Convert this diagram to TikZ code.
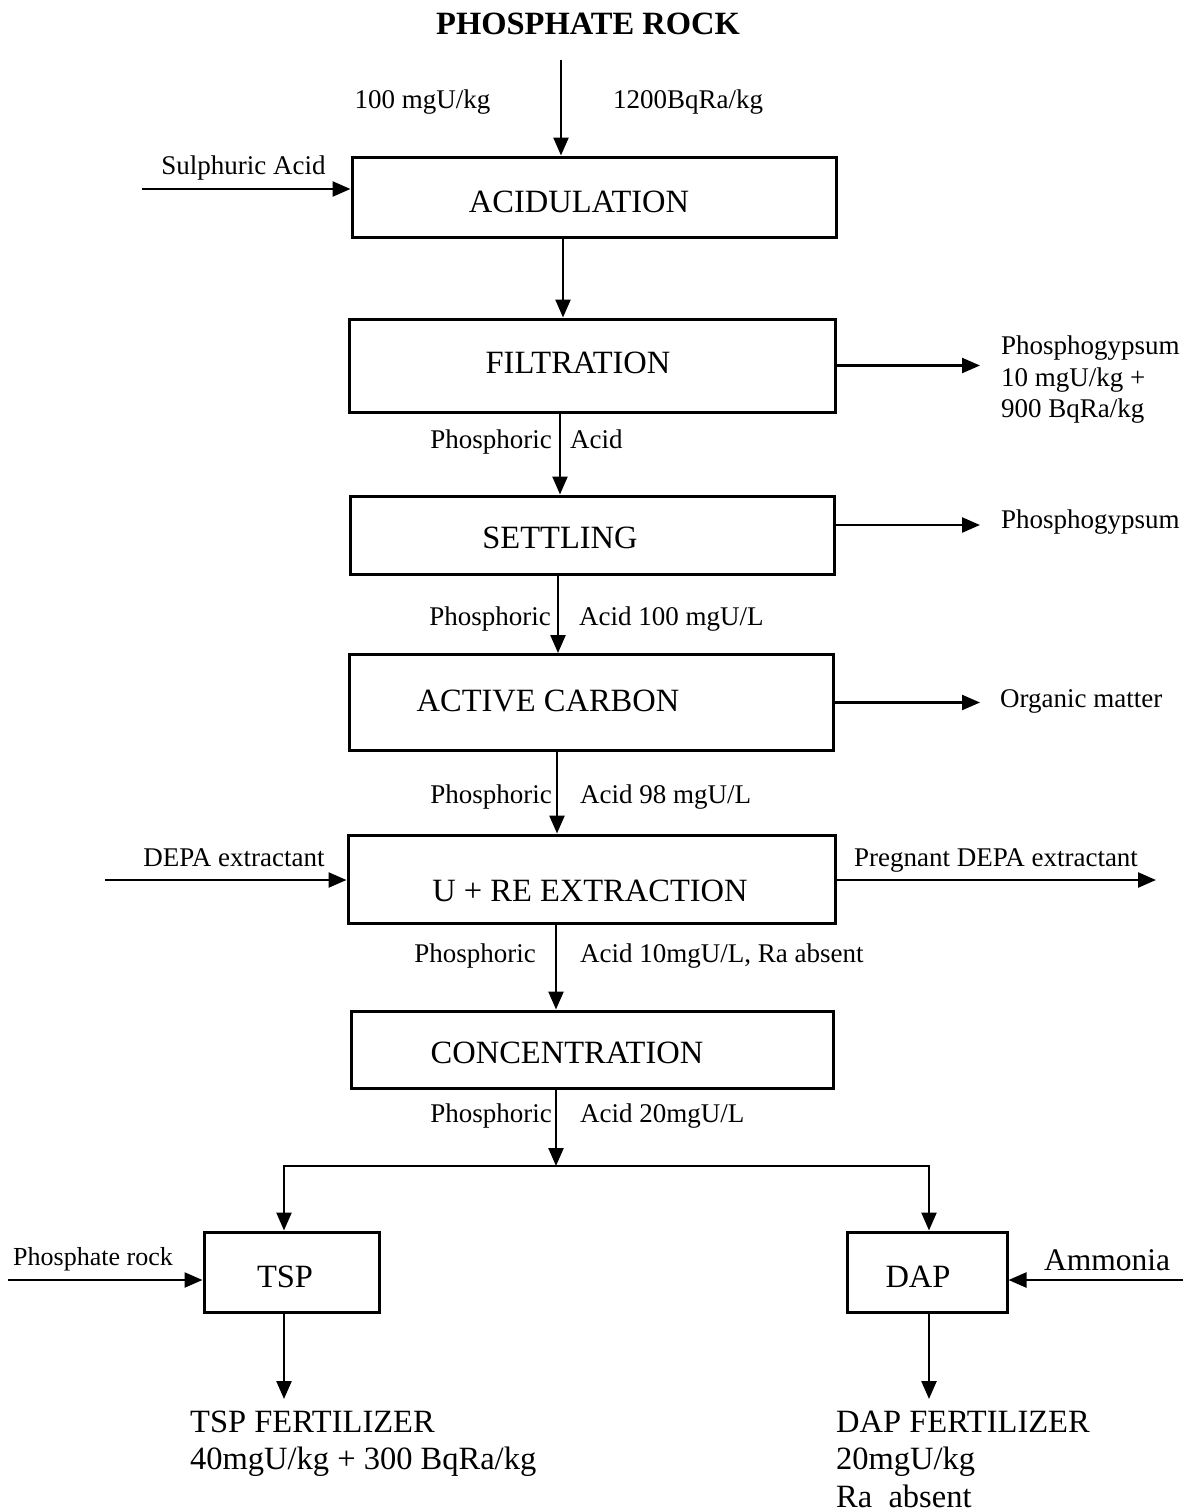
\documentclass[tikz,border=0pt]{standalone}
\usepackage{fontspec}
\setmainfont{Liberation Serif}
\usetikzlibrary{arrows.meta}
\begin{document}
\begin{tikzpicture}[x=1pt,y=-1pt,
  box/.style={draw,line width=3pt,inner sep=0pt},
  arr/.style={draw,line width=2.4pt,-{Triangle[length=18pt,width=15pt]}},
  big/.style={inner sep=0pt,anchor=base,font=\fontsize{32.5}{38}\selectfont},
  lbl/.style={inner sep=0pt,anchor=base,font=\fontsize{27}{32}\selectfont},
  lblw/.style={lbl,anchor=base west},
  lble/.style={lbl,anchor=base east},
  bigw/.style={big,anchor=base west}]
\useasboundingbox (0,0) rectangle (1189,1512);
% boxes
\node[box,minimum width=484pt,minimum height=80pt] (acid) at (594,197) {};
\node[box,minimum width=486pt,minimum height=93pt] (filt) at (592,365.5) {};
\node[box,minimum width=484pt,minimum height=78pt] (sett) at (592,535) {};
\node[box,minimum width=484pt,minimum height=96pt] (actc) at (591,702.5) {};
\node[box,minimum width=487pt,minimum height=88pt] (ure) at (591.5,879) {};
\node[box,minimum width=482pt,minimum height=77pt] (conc) at (592,1049.5) {};
\node[box,minimum width=175pt,minimum height=80pt] (tsp) at (291.5,1272) {};
\node[box,minimum width=160pt,minimum height=80pt] (dap) at (927,1272) {};
% box texts
\node[big] (tacid) at (579,212) {ACIDULATION};
\node[big] (tfilt) at (578,373) {FILTRATION};
\node[big] (tsett) at (560,548) {SETTLING};
\node[big] (tactc) at (548,711) {ACTIVE CARBON};
\node[big] (ture) at (590,901) {U + RE EXTRACTION};
\node[big] (tconc) at (567,1063) {CONCENTRATION};
\node[big] (ttsp) at (285,1287) {TSP};
\node[big] (tdap) at (918,1287) {DAP};
% title and feed
\node[big,font=\fontsize{32.5}{38}\selectfont\bfseries] (title) at (588,35) {PHOSPHATE ROCK};
\node[lbl] (u1) at (422.5,108) {100 mgU/kg};
\node[lbl] (ra1) at (688,108) {1200BqRa/kg};
\coordinate (feed) at (561,60);
\draw[arr] (feed) -- (feed |- acid.north);
% sulphuric acid
\coordinate (sa) at (142,189);
\node[lbl] (tsa) at (243.5,174) {Sulphuric Acid};
\draw[arr] (sa) -- (sa -| acid.west);
% main chain
\draw[arr] ([xshift=-31pt]acid.south) -- ([xshift=-29pt]filt.north);
\draw[arr] ([xshift=-32pt]filt.south) -- ([xshift=-32pt]sett.north);
\draw[arr] ([xshift=-34pt]sett.south) -- ([xshift=-33pt]actc.north);
\draw[arr] ([xshift=-34pt]actc.south) -- ([xshift=-34.5pt]ure.north);
\draw[arr] ([xshift=-35.5pt]ure.south) -- ([xshift=-36pt]conc.north);
% stream labels
\node[lble] (p1) at (552,448) {Phosphoric};
\node[lblw] (a1) at (570,448) {Acid};
\node[lble] (p2) at (551,625) {Phosphoric};
\node[lblw] (a2) at (579,625) {Acid 100 mgU/L};
\node[lble] (p3) at (552,803) {Phosphoric};
\node[lblw] (a3) at (580,803) {Acid 98 mgU/L};
\node[lble] (p4) at (536,962) {Phosphoric};
\node[lblw] (a4) at (580,962) {Acid 10mgU/L, Ra absent};
\node[lble] (p5) at (552,1122) {Phosphoric};
\node[lblw] (a5) at (580,1122) {Acid 20mgU/L};
% side outputs
\coordinate (outx) at (980,0);
\draw[arr] (filt.east) -- (filt.east -| outx);
\node[lblw] (g1) at (1001,354) {Phosphogypsum};
\node[lblw] (g2) at (1001,386) {10 mgU/kg +};
\node[lblw] (g3) at (1001,417) {900 BqRa/kg};
\draw[arr] ([yshift=10pt]sett.east) -- ([yshift=10pt]sett.east -| outx);
\node[lblw] (g4) at (1001,528) {Phosphogypsum};
\draw[arr] (actc.east) -- (actc.east -| outx);
\node[lblw] (om) at (1000,707) {Organic matter};
% DEPA
\coordinate (depain) at (105,880);
\coordinate (depaout) at (1156,880);
\draw[arr] (depain) -- (depain -| ure.west);
\draw[arr] (depain -| ure.east) -- (depaout);
\node[lbl] (td1) at (234,866) {DEPA extractant};
\node[lbl] (td2) at (996,866) {Pregnant DEPA extractant};
% split
\coordinate (split) at (556,1166);
\draw[arr] ([xshift=-36pt]conc.south) -- (split);
\draw[arr] (split) -| ([xshift=-7.5pt]tsp.north);
\draw[arr] (split) -| ([xshift=2pt]dap.north);
% TSP side
\coordinate (prin) at (8,1280);
\draw[arr] (prin) -- (prin -| tsp.west);
\node[lbl,font=\fontsize{26}{31}\selectfont] (tpr) at (93,1265) {Phosphate rock};
\coordinate (amin) at (1183,1280);
\draw[arr] (amin) -- (amin -| dap.east);
\node[big,font=\fontsize{31.5}{38}\selectfont] (tam) at (1107,1270) {Ammonia};
% products
\coordinate (tspf) at (284,1399);
\coordinate (dapf) at (929,1399);
\draw[arr] (tsp.south -| tspf) -- (tspf);
\draw[arr] (dap.south -| dapf) -- (dapf);
\node[bigw] (f1) at (190,1432) {TSP FERTILIZER};
\node[bigw] (f2) at (190,1469) {40mgU/kg + 300 BqRa/kg};
\node[bigw] (f3) at (836,1432) {DAP FERTILIZER};
\node[bigw] (f4) at (836,1469) {20mgU/kg};
\node[bigw] (f5) at (836,1507) {Ra\ \ absent};
\end{tikzpicture}
\end{document}
